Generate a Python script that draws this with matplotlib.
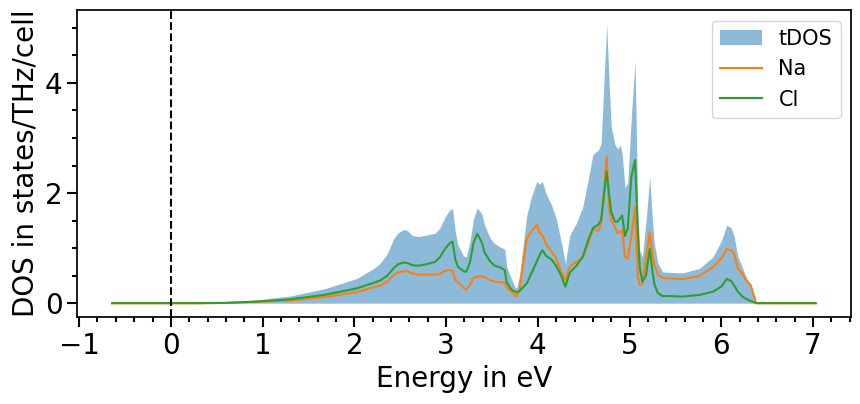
import numpy as np
import matplotlib
matplotlib.use('Agg')
import matplotlib.pyplot as plt
from matplotlib.ticker import MultipleLocator

# phonon DOS of NaCl
energy = [-0.64, 0.30, 0.60, 0.94, 1.30, 1.67, 2.03, 2.21, 2.28, 2.36,
          2.43, 2.48, 2.54, 2.58, 2.63, 2.70, 2.79, 2.88, 2.93, 2.99,
          3.04, 3.07, 3.10, 3.13, 3.19, 3.22, 3.26, 3.30, 3.34, 3.39,
          3.42, 3.48, 3.53, 3.59, 3.64, 3.66, 3.71, 3.75, 3.77, 3.80,
          3.88, 3.93, 3.99, 4.02, 4.05, 4.09, 4.15, 4.20, 4.26, 4.30,
          4.35, 4.42, 4.49, 4.55, 4.60, 4.66, 4.69, 4.71, 4.75, 4.78,
          4.80, 4.84, 4.87, 4.90, 4.92, 4.95, 4.98, 5.02, 5.06, 5.09,
          5.11, 5.14, 5.18, 5.22, 5.25, 5.27, 5.31, 5.36, 5.43, 5.58,
          5.76, 5.91, 6.00, 6.06, 6.11, 6.14, 6.18, 6.23, 6.27, 6.32,
          6.38, 7.03]

tdos = [0.00, 0.00, 0.01, 0.06, 0.13, 0.26, 0.45, 0.63, 0.72, 0.90,
        1.18, 1.28, 1.34, 1.32, 1.23, 1.21, 1.24, 1.27, 1.36, 1.57,
        1.69, 1.72, 1.30, 1.05, 0.86, 0.84, 1.12, 1.54, 1.73, 1.62,
        1.42, 1.18, 1.08, 1.02, 0.98, 0.66, 0.45, 0.30, 0.27, 0.50,
        1.60, 1.93, 2.21, 2.16, 2.21, 1.99, 1.78, 1.54, 1.08, 0.72,
        1.24, 1.45, 1.75, 2.25, 2.70, 2.78, 2.90, 3.60, 5.07, 3.90,
        3.21, 2.88, 2.80, 2.87, 2.70, 2.10, 2.18, 3.40, 4.40, 1.69,
        0.96, 0.84, 1.50, 2.30, 1.50, 1.08, 0.72, 0.57, 0.56, 0.55,
        0.63, 0.84, 1.13, 1.42, 1.36, 1.21, 0.85, 0.65, 0.47, 0.33,
        0.00, 0.00]

na = [0.00, 0.00, 0.005, 0.025, 0.05, 0.11, 0.20, 0.29, 0.32, 0.39,
      0.51, 0.56, 0.58, 0.58, 0.54, 0.52, 0.52, 0.52, 0.53, 0.59,
      0.60, 0.59, 0.42, 0.38, 0.28, 0.25, 0.33, 0.46, 0.48, 0.49,
      0.47, 0.42, 0.39, 0.38, 0.38, 0.29, 0.21, 0.14, 0.13, 0.25,
      1.18, 1.30, 1.42, 1.27, 1.24, 1.07, 0.93, 0.81, 0.55, 0.42,
      0.67, 0.75, 0.84, 1.08, 1.35, 1.31, 1.45, 1.81, 2.67, 1.69,
      1.50, 1.39, 1.27, 1.30, 1.33, 0.84, 0.81, 1.21, 1.75, 0.50,
      0.33, 0.35, 0.84, 1.28, 0.90, 0.70, 0.52, 0.46, 0.45, 0.44,
      0.49, 0.66, 0.81, 0.98, 0.96, 0.90, 0.63, 0.54, 0.42, 0.33,
      0.00, 0.00]

cl = [0.00, 0.00, 0.005, 0.03, 0.07, 0.15, 0.27, 0.37, 0.41, 0.50,
      0.64, 0.71, 0.74, 0.73, 0.69, 0.68, 0.71, 0.75, 0.83, 0.99,
      1.09, 1.12, 0.80, 0.66, 0.58, 0.57, 0.74, 1.10, 1.26, 1.10,
      0.92, 0.76, 0.68, 0.65, 0.60, 0.38, 0.25, 0.21, 0.20, 0.22,
      0.36, 0.54, 0.76, 0.88, 0.96, 0.86, 0.79, 0.68, 0.48, 0.30,
      0.56, 0.68, 0.84, 1.15, 1.36, 1.43, 1.51, 1.80, 2.39, 1.93,
      1.66, 1.48, 1.48, 1.55, 1.59, 1.22, 1.36, 2.30, 2.60, 1.33,
      0.66, 0.39, 0.51, 0.99, 0.57, 0.35, 0.18, 0.13, 0.13, 0.12,
      0.15, 0.21, 0.30, 0.44, 0.40, 0.32, 0.21, 0.12, 0.08, 0.04,
      0.00, 0.00]

fig, ax = plt.subplots(figsize=(8.6, 4.04), dpi=100)
fig.subplots_adjust(left=0.0895, right=0.9895, top=0.975, bottom=0.215)

ax.fill_between(energy, tdos, color='C0', alpha=0.5, lw=0, label='tDOS')
ax.plot(energy, na, color='C1', lw=1.5, label='Na')
ax.plot(energy, cl, color='C2', lw=1.5, label='Cl')
ax.axvline(0, color='k', ls='--', lw=1.5)

ax.set_xlabel('Energy in eV', fontsize=20)
ax.set_ylabel('DOS in states/THz/cell', fontsize=20)
ax.xaxis.set_minor_locator(MultipleLocator(0.2))
ax.yaxis.set_minor_locator(MultipleLocator(0.5))
ax.tick_params(which='major', labelsize=20, length=7, width=1.5)
ax.tick_params(which='minor', length=3.5, width=1.5)
for s in ax.spines.values():
    s.set_linewidth(1.25)

ax.legend(loc='upper right', fontsize=15)
fig.savefig('out.png')
